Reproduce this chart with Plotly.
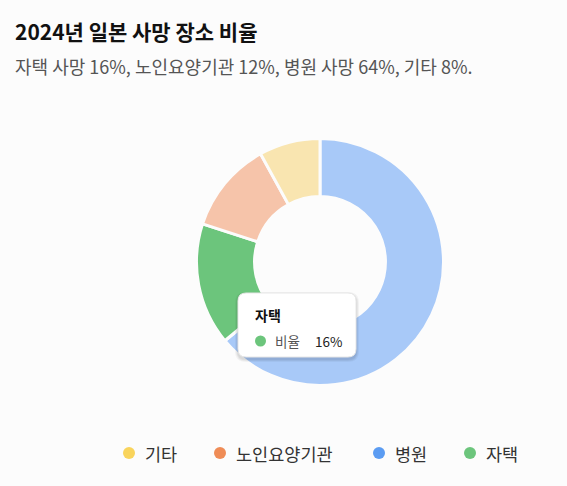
import plotly.graph_objects as go

# ---- data ----
slice_labels = ["병원", "자택", "노인요양기관", "기타"]
slice_values = [64, 16, 12, 8]
legend_labels = ["기타", "노인요양기관", "병원", "자택"]
series_name = "비율"
title_text = "2024년 일본 사망 장소 비율"
subtitle_text = "자택 사망 16%, 노인요양기관 12%, 병원 사망 64%, 기타 8%."
hovered = "자택"

# ---- styles ----
W, H = 567, 486
base_colors = {"병원": "#5b9cf2", "자택": "#6cc57c", "노인요양기관": "#ef8c56", "기타": "#f9d45c"}
faded_colors = {"병원": "#a8c9f8", "자택": "#6cc57c", "노인요양기관": "#f6c4aa", "기타": "#f9e5b0"}
FONT = "Noto Sans CJK KR"

def px(x):
    return x / W

def py(y):
    return 1 - y / H

def rrect(x0, y0, x1, y1, r):
    p = lambda x, y: f"{px(x):.5f},{py(y):.5f}"
    path = f"M {p(x0 + r, y0)} L {p(x1 - r, y0)} Q {p(x1, y0)} {p(x1, y0 + r)} "
    path += f"L {p(x1, y1 - r)} Q {p(x1, y1)} {p(x1 - r, y1)} "
    path += f"L {p(x0 + r, y1)} Q {p(x0, y1)} {p(x0, y1 - r)} "
    path += f"L {p(x0, y0 + r)} Q {p(x0, y0)} {p(x0 + r, y0)} Z"
    return path

cx, cy, R = 320, 262, 123.5

fig = go.Figure()
fig.add_trace(go.Pie(
    labels=slice_labels,
    values=slice_values,
    sort=False,
    direction="clockwise",
    rotation=0,
    hole=0.53,
    textinfo="none",
    hoverinfo="skip",
    showlegend=False,
    marker=dict(colors=[faded_colors[l] for l in slice_labels],
                line=dict(color="#fcfcfc", width=3)),
    domain=dict(x=[px(cx - R), px(cx + R)], y=[py(cy + R), py(cy - R)]),
))

shapes = []
annotations = []

# title & subtitle
annotations.append(dict(text=f"<b>{title_text}</b>", x=px(13), y=py(31), xref="paper", yref="paper",
                        xanchor="left", yanchor="middle", showarrow=False,
                        font=dict(family=FONT, size=21, color="#111111")))
annotations.append(dict(text=subtitle_text, x=px(13), y=py(66), xref="paper", yref="paper",
                        xanchor="left", yanchor="middle", showarrow=False,
                        font=dict(family=FONT, size=18, color="#555555")))

# legend
legend_dot_x = [129, 220, 379, 470]
ly = 453
for name, dx in zip(legend_labels, legend_dot_x):
    shapes.append(dict(type="circle", xref="paper", yref="paper",
                       x0=px(dx - 6), x1=px(dx + 6), y0=py(ly + 6), y1=py(ly - 6),
                       fillcolor=base_colors[name], line=dict(width=0)))
    annotations.append(dict(text=name, x=px(dx + 14), y=py(ly), xref="paper", yref="paper",
                            xanchor="left", yanchor="middle", showarrow=False,
                            font=dict(family=FONT, size=17.5, color="#333333")))

# tooltip
tx0, ty0, tx1, ty1 = 238, 293, 356, 357
for i, op in enumerate([0.05, 0.05, 0.04]):
    d = i + 1
    shapes.append(dict(type="path", xref="paper", yref="paper",
                       path=rrect(tx0 - d, ty0 - d + 2, tx1 + d, ty1 + d + 2, 8 + d),
                       fillcolor="rgba(0,0,0,%s)" % op, line=dict(width=0)))
shapes.append(dict(type="path", xref="paper", yref="paper", path=rrect(tx0, ty0, tx1, ty1, 8),
                   fillcolor="#ffffff", line=dict(color="#e6e6e6", width=1)))
hv = slice_values[slice_labels.index(hovered)]
annotations.append(dict(text=f"<b>{hovered}</b>", x=px(253), y=py(315), xref="paper", yref="paper",
                        xanchor="left", yanchor="middle", showarrow=False,
                        font=dict(family=FONT, size=14, color="#111111")))
shapes.append(dict(type="circle", xref="paper", yref="paper",
                   x0=px(255), x1=px(266), y0=py(346.5), y1=py(335.5),
                   fillcolor=base_colors[hovered], line=dict(width=0)))
annotations.append(dict(text=series_name, x=px(273), y=py(341), xref="paper", yref="paper",
                        xanchor="left", yanchor="middle", showarrow=False,
                        font=dict(family=FONT, size=13.5, color="#555555")))
annotations.append(dict(text=f"{hv}%", x=px(344), y=py(341), xref="paper", yref="paper",
                        xanchor="right", yanchor="middle", showarrow=False,
                        font=dict(family=FONT, size=13.5, color="#222222")))

fig.update_layout(
    width=W, height=H,
    margin=dict(l=0, r=0, t=0, b=0),
    paper_bgcolor="#fcfcfc",
    plot_bgcolor="#fcfcfc",
    shapes=shapes,
    annotations=annotations,
    showlegend=False,
)

fig.write_html("out.html")
